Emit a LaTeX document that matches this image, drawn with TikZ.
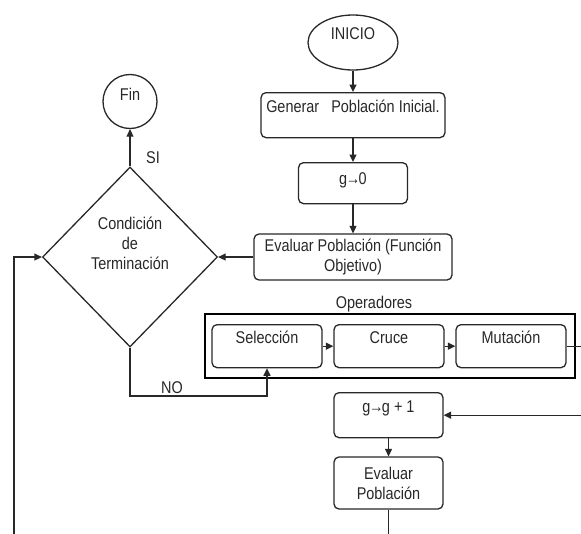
\documentclass[tikz,border=0pt]{standalone}
\usepackage{fontspec}
\setmainfont[FakeStretch=0.85]{Liberation Sans}
\usetikzlibrary{shapes.geometric,arrows.meta}
\definecolor{ink}{RGB}{40,40,40}
\newcommand{\garrow}{\kern-1.5pt→\kern-1.5pt}
\begin{document}
\begin{tikzpicture}[x=1pt,y=-1pt,
  every node/.style={font=\fontsize{17}{20}\selectfont, text=ink},
  conn/.style={draw=ink, line width=1.3pt},
  arr/.style={conn, -{Triangle[width=7pt,length=7.5pt]}},
  rbox/.style={draw=ink, line width=1.3pt, rounded corners=5pt, inner sep=0pt},
  topbox/.style={rbox, anchor=north},
  plain/.style={inner sep=0pt}
]
\useasboundingbox (0,0) rectangle (581,533);
\fill[white] (0,0) rectangle (581,533);
\clip (0,0) rectangle (581,533);

% start / end
\node[draw=ink, line width=1.3pt, ellipse, minimum width=90pt, minimum height=55pt, inner sep=0pt,
      text height=13pt, text depth=20pt] (inicio) at (353,42.5) {INICIO};
\node[draw=ink, line width=1.3pt, circle, minimum size=54pt, inner sep=0pt,
      text height=13pt, text depth=16pt] (fin) at (130,101.5) {Fin};

% main column
\node[topbox, minimum width=184pt, text height=20pt, text depth=25pt] (gen) at (353,92) {Generar\ \ \ Población Inicial.};
\node[topbox, minimum width=109pt, text height=22pt, text depth=19pt] (g0) at (353,162) {g\garrow 0};
\node[rbox, minimum width=198pt, minimum height=46pt, align=center] (eval1) at (353,257) {Evaluar Población (Función\\Objetivo)};

% decision
\node[draw=ink, line width=1.3pt, diamond, minimum width=175pt, minimum height=180pt, inner sep=0pt] (cond) at (130,257) {};
\node[plain, align=center] (condtext) at (130,243) {Condición\\de\\Terminación};

% operators
\node[draw=black, line width=2.6pt, minimum width=370pt, minimum height=64pt, inner sep=0pt] (ops) at (390,346) {};
\node[plain] (opslabel) at (374,304) {Operadores};
\node[topbox, minimum width=110pt, text height=19pt, text depth=24pt] (sel) at (267,324) {Selección};
\node[topbox, minimum width=110pt, text height=19pt, text depth=24pt] (cruce) at (389,324) {Cruce};
\node[topbox, minimum width=110pt, text height=19pt, text depth=24pt] (mut) at (511,324) {Mutación};

% lower column
\node[topbox, minimum width=109pt, text height=20pt, text depth=25pt] (g1) at (388.5,392) {g\garrow g + 1};
\node[rbox, minimum width=109pt, minimum height=52pt, align=center] (eval2) at (388.5,483) {Evaluar\\Población};

% labels
\node[plain] (si) at (153,158) {SI};
\node[plain] (no) at (172,388) {NO};

% helper coordinates
\coordinate (nobend) at (267,396);
\coordinate (rightc) at (600,380);
\coordinate (lowl) at (14,570);

% connectors
\draw[arr] (inicio.south) -- (gen.north);
\draw[arr] (gen.south) -- (g0.north);
\draw[arr] (g0.south) -- (eval1.north);
\draw[arr] (eval1.west) -- (cond.east);
\draw[arr] (cond.north) -- (fin.south);
\draw[arr] (cond.south) |- (nobend) -- (sel.south);
\draw[arr] (sel.east) -- (cruce.west);
\draw[arr] (cruce.east) -- (mut.west);
\draw[arr] (mut.east) -| (rightc) |- (g1.east);
\draw[arr] (g1.south) -- (eval2.north);
\draw[arr] (eval2.south) |- (lowl) |- (cond.west);
\end{tikzpicture}
\end{document}
